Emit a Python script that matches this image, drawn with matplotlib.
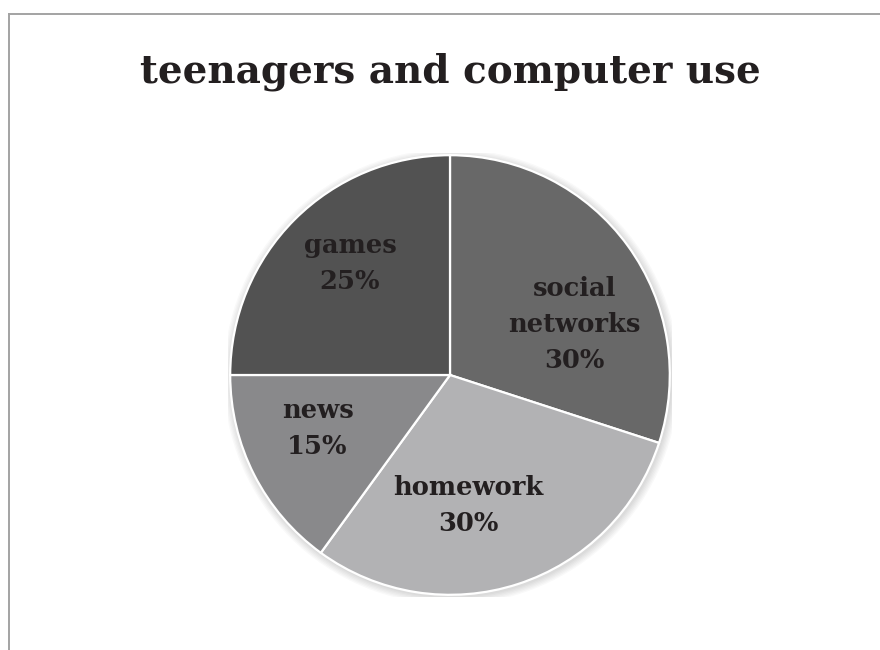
import numpy as np
import matplotlib.pyplot as plt
from matplotlib.lines import Line2D
from matplotlib.patches import Circle

# share of computer time, clockwise from 12 o'clock
categories = ['social\nnetworks', 'homework', 'news', 'games']
shares = [30, 30, 15, 25]
colors = ['#686868', '#b2b2b4', '#89898b', '#525252']
# label placement inside each wedge: distance from centre and angular nudge (deg)
label_radius = [0.61, 0.60, 0.65, 0.68]
label_nudge = [-14, -10, -5, -3]

plt.rcParams['font.family'] = ['DejaVu Serif']

fig = plt.figure(figsize=(8.8, 6.5), dpi=100)
fig.patch.set_facecolor('white')

# frame around the chart area (only top and left edges are visible)
fig.add_artist(Line2D([8.5 / 880, 1.0], [1 - 13.5 / 650] * 2, color='#a3a3a3', lw=1.4))
fig.add_artist(Line2D([8.5 / 880] * 2, [0.0, 1 - 13.5 / 650], color='#a3a3a3', lw=1.4))

fig.text(450 / 880, 1 - 72 / 650, 'teenagers and computer use', ha='center', va='center',
         fontsize=28, fontweight='bold', color='#231f20')

ax = fig.add_axes([(450 - 222) / 880, (650 - 375 - 222) / 650, 444 / 880, 444 / 650])

# soft shadow under the pie
for k in range(6):
    ax.add_patch(Circle((0.006, -0.008), 1.0 + 0.006 * (6 - k), color='#000000',
                        alpha=0.025, lw=0, zorder=0))

wedges, _ = ax.pie(shares, colors=colors, startangle=90, counterclock=False, radius=1.0,
                   wedgeprops=dict(edgecolor='white', linewidth=1.6))
for w in wedges:
    w.set_zorder(2)

for w, name, val, r, nudge in zip(wedges, categories, shares, label_radius, label_nudge):
    mid = np.deg2rad((w.theta1 + w.theta2) / 2 + nudge)
    ax.text(r * np.cos(mid), r * np.sin(mid), f'{name}\n{val}%', ha='center', va='center',
            fontsize=18.5, fontweight='bold', color='#231f20', linespacing=1.55, zorder=3)

ax.set_xlim(-1.01, 1.01)
ax.set_ylim(-1.01, 1.01)
ax.set_aspect('equal')
ax.axis('off')

fig.savefig('out.png', dpi=100)
